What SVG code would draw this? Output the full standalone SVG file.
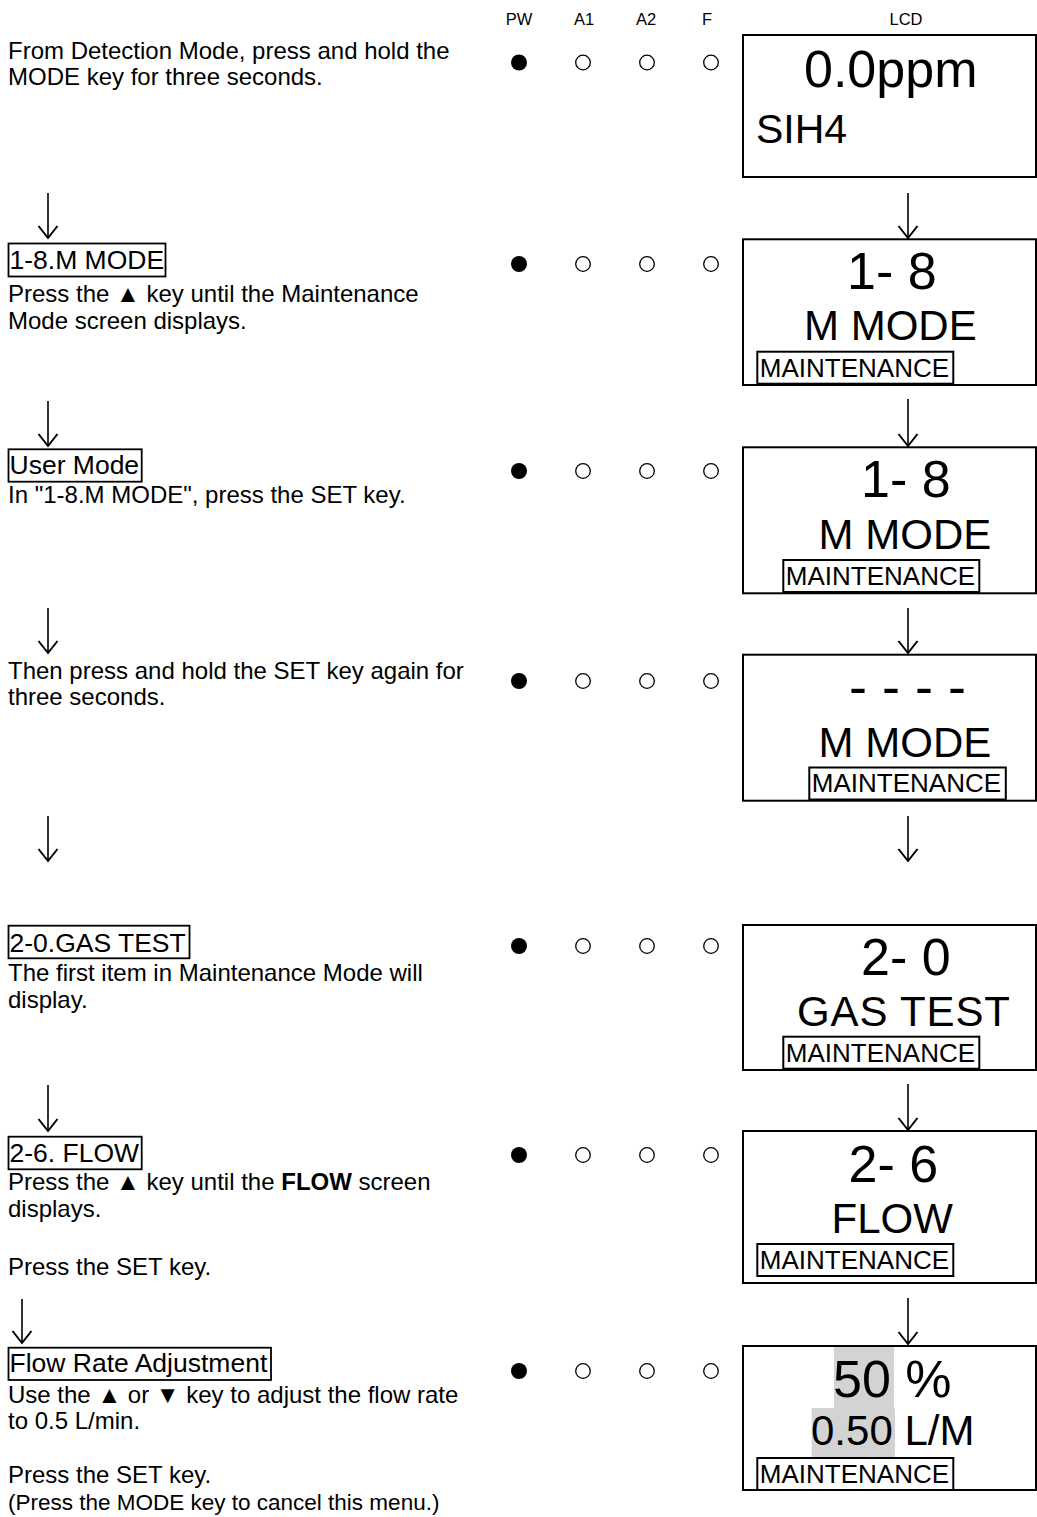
<svg xmlns="http://www.w3.org/2000/svg" width="1037" height="1517" viewBox="0 0 1037 1517">
<style>
text{font-family:"Liberation Sans",Arial,sans-serif;fill:#000}
.hdr{font-size:16.5px;text-anchor:middle}
.body{font-size:24px}
.title{font-size:26.5px}
.tbox{fill:none;stroke:#000;stroke-width:1.8}
.lcd{fill:#fff;stroke:#000;stroke-width:2}
.big{font-size:52px}
.mid{font-size:42px}
.mnt{font-size:26px}
.mbox{fill:#fff;stroke:#000;stroke-width:2}
.on{fill:#000}
.off{fill:#fff;stroke:#000;stroke-width:1.3}
.hl{fill:#d3d3d3}
.conn line{stroke:#000;stroke-width:1.6}
</style>
<defs>
<marker id="ah" viewBox="-14 -11 16 22" refX="0" refY="0" markerWidth="16" markerHeight="22" markerUnits="userSpaceOnUse" orient="auto">
<path d="M-12,-9.5 L0,0 L-12,9.5" fill="none" stroke="#000" stroke-width="2"/>
</marker>
<g id="leds">
<circle class="on" cx="519" cy="0" r="8"/>
<circle class="off" cx="583" cy="0" r="7.3"/>
<circle class="off" cx="647" cy="0" r="7.3"/>
<circle class="off" cx="711" cy="0" r="7.3"/>
</g>
</defs>
<rect width="1037" height="1517" fill="#fff"/>

<g id="header">
<text class="hdr" x="519" y="25">PW</text>
<text class="hdr" x="584" y="25">A1</text>
<text class="hdr" x="646" y="25">A2</text>
<text class="hdr" x="707" y="25">F</text>
<text class="hdr" x="906" y="25">LCD</text>
</g>

<!-- Step 1 -->
<g id="step1-text">
<text class="body" x="8" y="59">From Detection Mode, press and hold the</text>
<text class="body" x="8" y="85">MODE key for three seconds.</text>
</g>
<g id="step1-leds"><use href="#leds" y="62.5"/></g>
<g id="step1-lcd">
<rect class="lcd" x="743" y="35" width="293" height="142"/>
<text class="big" x="804" y="87">0.0ppm</text>
<text style="font-size:41px" x="756" y="143">SIH4</text>
</g>

<!-- Step 2 -->
<g id="step2-text">
<rect class="tbox" x="8.5" y="243.5" width="157" height="33"/>
<text class="title" x="9.5" y="269.3">1-8.M MODE</text>
<text class="body" x="8" y="301.7">Press the ▲ key until the Maintenance</text>
<text class="body" x="8" y="329.3">Mode screen displays.</text>
</g>
<g id="step2-leds"><use href="#leds" y="264"/></g>
<g id="step2-lcd">
<rect class="lcd" x="743" y="239.3" width="293" height="145.7"/>
<text class="big" x="847" y="289.3">1- 8</text>
<text class="mid" x="804" y="340">M MODE</text>
<rect class="mbox" x="757.3" y="351.7" width="196" height="32"/>
<text class="mnt" x="759.8" y="376.5">MAINTENANCE</text>
</g>

<!-- Step 3 -->
<g id="step3-text">
<rect class="tbox" x="8.5" y="449.3" width="133.2" height="32.4"/>
<text class="title" x="9.5" y="474">User Mode</text>
<text class="body" x="8" y="503.3">In "1-8.M MODE", press the SET key.</text>
</g>
<g id="step3-leds"><use href="#leds" y="471"/></g>
<g id="step3-lcd">
<rect class="lcd" x="743" y="447.3" width="293" height="146"/>
<text class="big" x="861" y="497.3">1- 8</text>
<text class="mid" x="818.6" y="549">M MODE</text>
<rect class="mbox" x="783.3" y="560" width="196" height="32"/>
<text class="mnt" x="785.8" y="584.8">MAINTENANCE</text>
</g>

<!-- Step 4 -->
<g id="step4-text">
<text class="body" x="8" y="678.5">Then press and hold the SET key again for</text>
<text class="body" x="8" y="705">three seconds.</text>
</g>
<g id="step4-leds"><use href="#leds" y="681"/></g>
<g id="step4-lcd">
<rect class="lcd" x="743" y="654.7" width="293" height="146"/>
<text style="font-size:54px" x="849" y="705">- - - -</text>
<text class="mid" x="818.6" y="756.7">M MODE</text>
<rect class="mbox" x="809.3" y="767.5" width="196.5" height="32"/>
<text class="mnt" x="811.8" y="792.3">MAINTENANCE</text>
</g>

<!-- Step 5 -->
<g id="step5-text">
<rect class="tbox" x="8.5" y="925.7" width="181" height="32.6"/>
<text class="title" x="9.5" y="951.7">2-0.GAS TEST</text>
<text class="body" x="8" y="981">The first item in Maintenance Mode will</text>
<text class="body" x="8" y="1008.3">display.</text>
</g>
<g id="step5-leds"><use href="#leds" y="946"/></g>
<g id="step5-lcd">
<rect class="lcd" x="743" y="925" width="293" height="145"/>
<text class="big" x="861" y="975">2- 0</text>
<text class="mid" x="797" y="1026" textLength="213">GAS TEST</text>
<rect class="mbox" x="783.3" y="1036.7" width="196" height="32"/>
<text class="mnt" x="785.8" y="1061.5">MAINTENANCE</text>
</g>

<!-- Step 6 -->
<g id="step6-text">
<rect class="tbox" x="8.5" y="1136.7" width="133.2" height="32.6"/>
<text class="title" x="9.5" y="1161.7">2-6. FLOW</text>
<text class="body" x="8" y="1190">Press the ▲ key until the <tspan font-weight="bold">FLOW</tspan> screen</text>
<text class="body" x="8" y="1216.7">displays.</text>
<text class="body" x="8" y="1275">Press the SET key.</text>
</g>
<g id="step6-leds"><use href="#leds" y="1155"/></g>
<g id="step6-lcd">
<rect class="lcd" x="743" y="1131" width="293" height="152"/>
<text class="big" x="848.5" y="1181.7">2- 6</text>
<text class="mid" x="831.6" y="1233.3">FLOW</text>
<rect class="mbox" x="757.3" y="1244" width="196" height="32"/>
<text class="mnt" x="759.8" y="1268.8">MAINTENANCE</text>
</g>

<!-- Step 7 -->
<g id="step7-text">
<rect class="tbox" x="8.5" y="1347.7" width="262.5" height="32.3"/>
<text class="title" x="9.5" y="1371.7">Flow Rate Adjustment</text>
<text class="body" x="8" y="1402.7">Use the ▲ or ▼ key to adjust the flow rate</text>
<text class="body" x="8" y="1429.3">to 0.5 L/min.</text>
<text class="body" x="8" y="1482.7">Press the SET key.</text>
<text class="body" x="8" y="1510" style="font-size:22.5px">(Press the MODE key to cancel this menu.)</text>
</g>
<g id="step7-leds"><use href="#leds" y="1371"/></g>
<g id="step7-lcd">
<rect class="lcd" x="743" y="1346" width="293" height="144"/>
<rect class="hl" x="834" y="1347" width="60" height="61"/>
<rect class="hl" x="811.7" y="1408" width="83.3" height="49"/>
<text class="big" x="833" y="1396.7">50 %</text>
<text class="mid" x="811" y="1445">0.50 L/M</text>
<rect class="mbox" x="757.3" y="1458" width="196" height="32"/>
<text class="mnt" x="759.8" y="1482.8">MAINTENANCE</text>
</g>

<g id="connectors" class="conn">
<line x1="48" y1="193" x2="48" y2="238" marker-end="url(#ah)"/>
<line x1="48" y1="401" x2="48" y2="446" marker-end="url(#ah)"/>
<line x1="48" y1="608" x2="48" y2="653" marker-end="url(#ah)"/>
<line x1="48" y1="816" x2="48" y2="861" marker-end="url(#ah)"/>
<line x1="48" y1="1085" x2="48" y2="1131" marker-end="url(#ah)"/>
<line x1="22" y1="1299" x2="22" y2="1343" marker-end="url(#ah)"/>
<line x1="908" y1="193" x2="908" y2="238" marker-end="url(#ah)"/>
<line x1="908" y1="399" x2="908" y2="446" marker-end="url(#ah)"/>
<line x1="908" y1="608" x2="908" y2="653" marker-end="url(#ah)"/>
<line x1="908" y1="816" x2="908" y2="861" marker-end="url(#ah)"/>
<line x1="908" y1="1084" x2="908" y2="1130" marker-end="url(#ah)"/>
<line x1="908" y1="1298" x2="908" y2="1344" marker-end="url(#ah)"/>
</g>
</svg>
